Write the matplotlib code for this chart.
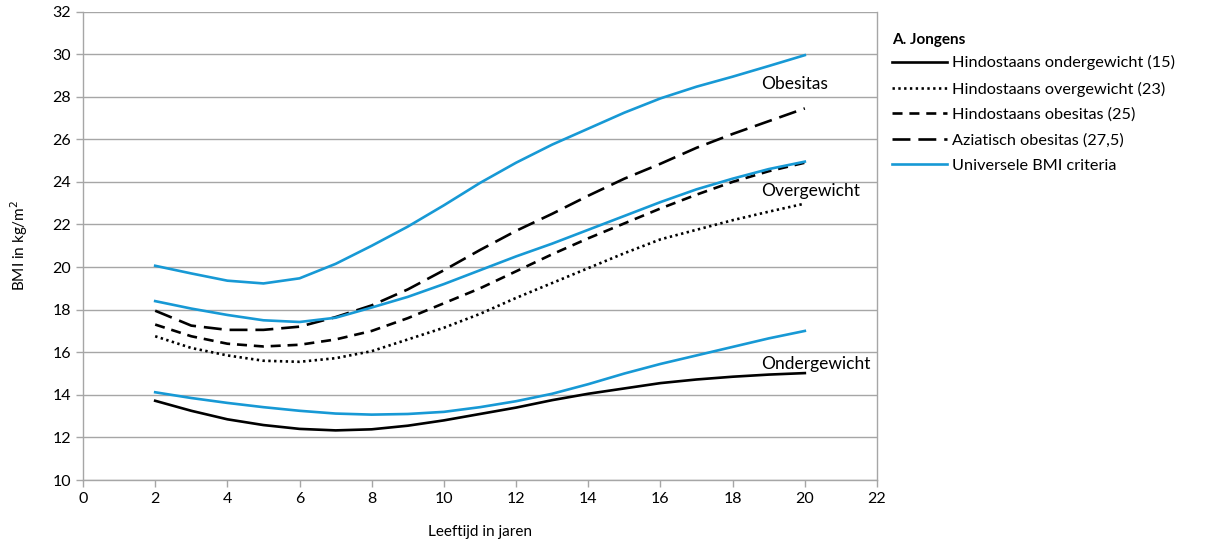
import matplotlib.pyplot as plt

plt.rcParams['font.family'] = ['Lato', 'DejaVu Sans']

# leeftijd in jaren
age = [2, 3, 4, 5, 6, 7, 8, 9, 10, 11, 12, 13, 14, 15, 16, 17, 18, 19, 20]

# Hindostaanse afkapwaarden
hind_onder = [13.72, 13.25, 12.85, 12.58, 12.40, 12.33, 12.38, 12.55, 12.80, 13.10,
              13.40, 13.75, 14.05, 14.30, 14.55, 14.72, 14.85, 14.95, 15.02]
hind_over = [16.75, 16.20, 15.85, 15.60, 15.55, 15.72, 16.05, 16.60, 17.15, 17.80,
             18.55, 19.25, 19.95, 20.65, 21.30, 21.75, 22.20, 22.60, 22.98]
hind_obes = [17.30, 16.75, 16.40, 16.27, 16.35, 16.60, 17.00, 17.60, 18.30, 19.00,
             19.80, 20.60, 21.35, 22.05, 22.75, 23.40, 24.00, 24.50, 24.90]
azi_obes = [17.95, 17.25, 17.05, 17.05, 17.20, 17.65, 18.20, 18.95, 19.85, 20.80,
            21.70, 22.50, 23.35, 24.15, 24.85, 25.60, 26.25, 26.85, 27.45]

# universele criteria
uni_onder = [14.12, 13.85, 13.62, 13.42, 13.25, 13.12, 13.07, 13.10, 13.20, 13.42,
             13.70, 14.05, 14.50, 15.00, 15.45, 15.85, 16.25, 16.65, 17.00]
uni_over = [18.40, 18.05, 17.75, 17.50, 17.42, 17.62, 18.10, 18.60, 19.20, 19.85,
            20.50, 21.10, 21.75, 22.40, 23.05, 23.65, 24.15, 24.60, 24.95]
uni_obes = [20.06, 19.70, 19.36, 19.23, 19.47, 20.15, 21.00, 21.90, 22.90, 23.95,
            24.90, 25.75, 26.50, 27.25, 27.92, 28.47, 28.94, 29.44, 29.95]

blue = '#1799d5'
grid = '#a6a6a6'

fig = plt.figure(figsize=(12.07, 5.44), dpi=100)
ax = fig.add_axes([83/1207, 1-480/544, 794/1207, 468.5/544])

lw = 1.9
ax.plot(age, hind_onder, color='black', lw=lw, label='Hindostaans ondergewicht (15)')
ax.plot(age, hind_over, color='black', lw=lw, ls=(0, (0.9, 1.3)), label='Hindostaans overgewicht (23)')
ax.plot(age, hind_obes, color='black', lw=lw, ls=(0, (3.8, 2.6)), label='Hindostaans obesitas (25)')
ax.plot(age, azi_obes, color='black', lw=lw, ls=(0, (6.8, 3.0)), label='Aziatisch obesitas (27,5)')
ax.plot(age, uni_onder, color=blue, lw=lw, label='Universele BMI criteria')
ax.plot(age, uni_over, color=blue, lw=lw)
ax.plot(age, uni_obes, color=blue, lw=lw)

ax.text(18.8, 28.6, 'Obesitas', fontsize=12.5, va='center')
ax.text(18.8, 23.57, 'Overgewicht', fontsize=12.5, va='center')
ax.text(18.8, 15.45, 'Ondergewicht', fontsize=12.5, va='center')

ax.set_xlim(0, 22)
ax.set_ylim(10, 32)
ax.set_xticks(range(0, 23, 2))
ax.set_yticks(range(10, 33, 2))
ax.grid(axis='y', color=grid, lw=1)
ax.set_axisbelow(True)
for s in ax.spines.values():
    s.set_color(grid)
    s.set_linewidth(1)
ax.spines['top'].set_visible(False)
ax.tick_params(colors=grid, labelcolor='black', labelsize=11.5, length=5, width=1)

ax.set_xlabel('Leeftijd in jaren', fontsize=11, labelpad=14)
ax.set_ylabel('BMI in kg/m$^2$', fontsize=11, labelpad=16)

leg = ax.legend(loc='upper left', bbox_to_anchor=(892/1207, 1-33/544),
                bbox_transform=fig.transFigure, frameon=False, fontsize=11.7,
                handlelength=3.4, handletextpad=0.3, labelspacing=0.68,
                borderpad=0, borderaxespad=0, title='A. Jongens',
                title_fontproperties={'weight': 'bold', 'size': 11},
                alignment='left')
leg._legend_box.sep = 6

fig.savefig('out.png', dpi=100)
